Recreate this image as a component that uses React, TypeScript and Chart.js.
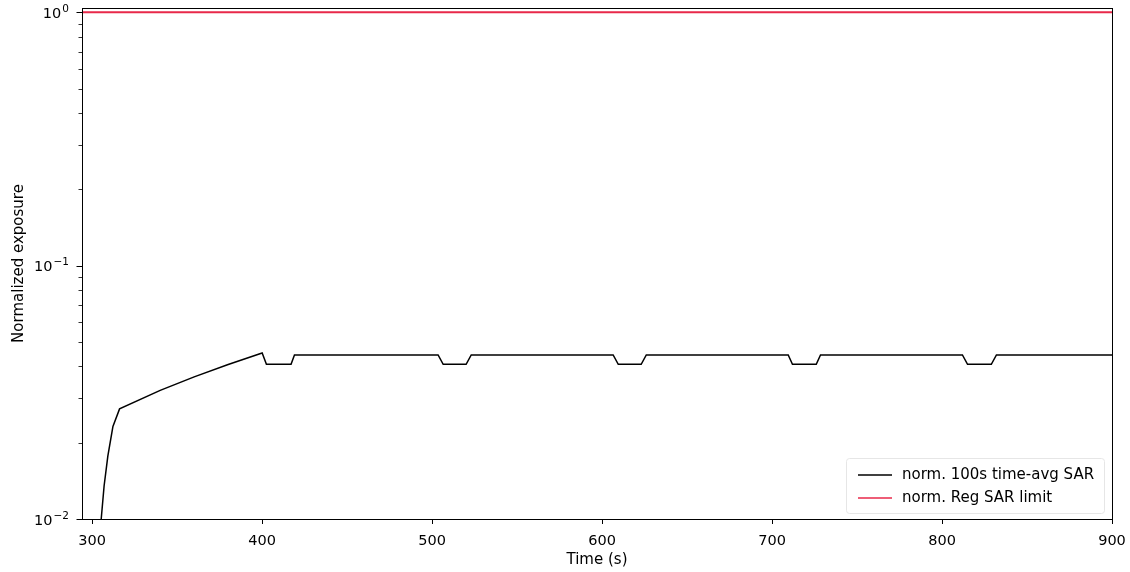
import React, { useEffect, useRef } from "react";
import { Chart, registerables } from "chart.js";

Chart.register(...registerables);

// ---- data ----
const timeSec = [304.8, 305.3, 307, 309.2, 312.2, 316.1, 340, 360, 380, 400, 402.5, 417, 419, 503.5, 506.5, 520, 523, 606.5, 609.5, 623, 626, 709.5, 712, 726, 728.5, 812, 815, 829, 832, 900];
const sarAvgNorm = [0.0095, 0.01, 0.0135, 0.0177, 0.0232, 0.0272, 0.0322, 0.0364, 0.0407, 0.0452, 0.0408, 0.0408, 0.0444, 0.0444, 0.0408, 0.0408, 0.0444, 0.0444, 0.0408, 0.0408, 0.0444, 0.0444, 0.0408, 0.0408, 0.0444, 0.0444, 0.0408, 0.0408, 0.0444, 0.0444];
const limitTime = [294, 900];
const limitNorm = [1, 1];

const seriesLabels = ["norm. 100s time-avg SAR", "norm. Reg SAR limit"];
const xTicks = [300, 400, 500, 600, 700, 800, 900];
const yMajorTicks = [0.01, 0.1, 1];
const yTickBase = "10";
const yTickExponents = ["\u22122", "\u22121", "0"];
const xRange = [294, 900];
const yRange = [0.01, 1.04];

const FONT = "'DejaVu Sans', sans-serif";

const frameAndTicks = {
  id: "frameAndTicks",
  afterDatasetsDraw(chart: any) {
    const { ctx, chartArea: a, scales } = chart;
    ctx.save();
    ctx.strokeStyle = "#000";
    ctx.lineWidth = 1;
    ctx.strokeRect(Math.round(a.left) + 0.5, Math.round(a.top) + 0.5, Math.round(a.right - a.left), Math.round(a.bottom - a.top));
    ctx.beginPath();
    for (const v of xTicks) {
      const x = Math.round(scales.x.getPixelForValue(v)) + 0.5;
      ctx.moveTo(x, a.bottom);
      ctx.lineTo(x, a.bottom + 5);
    }
    for (const v of yMajorTicks) {
      const y = Math.round(scales.y.getPixelForValue(v)) + 0.5;
      ctx.moveTo(a.left, y);
      ctx.lineTo(a.left - 5.5, y);
    }
    ctx.stroke();
    ctx.beginPath();
    ctx.lineWidth = 0.8;
    for (const d of yMajorTicks) {
      for (let m = 2; m <= 9; m++) {
        const v = d * m;
        if (v > yRange[1]) continue;
        const y = Math.round(scales.y.getPixelForValue(v)) + 0.5;
        ctx.moveTo(a.left, y);
        ctx.lineTo(a.left - 3.5, y);
      }
    }
    ctx.stroke();
    // y tick labels with superscript exponents
    ctx.fillStyle = "#000";
    ctx.textAlign = "left";
    ctx.textBaseline = "alphabetic";
    yMajorTicks.forEach((v, i) => {
      const y = scales.y.getPixelForValue(v);
      const right = a.left - 13;
      ctx.font = `10.5px ${FONT}`;
      const ew = ctx.measureText(yTickExponents[i]).width;
      ctx.font = `14.5px ${FONT}`;
      const bw = ctx.measureText(yTickBase).width;
      const x0 = right - ew - bw - 1;
      ctx.fillText(yTickBase, x0, y + 5.5);
      ctx.font = `10.5px ${FONT}`;
      ctx.fillText(yTickExponents[i], x0 + bw + 1, y - 0.5);
    });
    ctx.restore();
  },
};

const legendBox = {
  id: "legendBox",
  afterDraw(chart: any) {
    const { ctx, chartArea: a } = chart;
    const ds = chart.data.datasets;
    ctx.save();
    ctx.font = `15px ${FONT}`;
    const lineH = 23;
    const boxW = 258;
    const boxH = 55;
    const bx = Math.round(a.right - 8 - boxW);
    const by = Math.round(a.bottom - 6 - boxH);
    ctx.fillStyle = "rgba(255,255,255,0.8)";
    ctx.strokeStyle = "#e6e6e6";
    ctx.lineWidth = 1;
    ctx.beginPath();
    if ((ctx as any).roundRect) (ctx as any).roundRect(bx + 0.5, by + 0.5, boxW, boxH, 3);
    else ctx.rect(bx + 0.5, by + 0.5, boxW, boxH);
    ctx.fill();
    ctx.stroke();
    ds.forEach((d: any, i: number) => {
      const y = by + 17 + i * lineH;
      ctx.strokeStyle = d.borderColor;
      ctx.lineWidth = 1.5;
      ctx.beginPath();
      ctx.moveTo(bx + 12, y);
      ctx.lineTo(bx + 46, y);
      ctx.stroke();
      ctx.fillStyle = "#000";
      ctx.textBaseline = "middle";
      ctx.textAlign = "left";
      ctx.fillText(d.label, bx + 56, y);
    });
    ctx.restore();
  },
};

export default function App() {
  const ref = useRef<HTMLCanvasElement>(null);
  useEffect(() => {
    const canvas = ref.current;
    if (!canvas) return;
    const chart = new Chart(canvas, {
      type: "line",
      data: {
        datasets: [
          {
            label: seriesLabels[0],
            data: timeSec.map((t, i) => ({ x: t, y: sarAvgNorm[i] })),
            borderColor: "#000000",
            borderWidth: 1.5,
            pointRadius: 0,
            tension: 0,
          },
          {
            label: seriesLabels[1],
            data: limitTime.map((t, i) => ({ x: t, y: limitNorm[i] })),
            borderColor: "#e8294a",
            borderWidth: 2,
            pointRadius: 0,
            tension: 0,
          },
        ],
      },
      options: {
        animation: false,
        responsive: false,
        layout: { padding: { top: 8, right: 18, bottom: 0, left: 0 } },
        plugins: { legend: { display: false }, tooltip: { enabled: false }, title: { display: false } },
        scales: {
          x: {
            type: "linear",
            min: xRange[0],
            max: xRange[1],
            grid: { display: false },
            border: { display: false },
            afterBuildTicks: (s: any) => {
              s.ticks = xTicks.map((v) => ({ value: v }));
            },
            afterFit: (s: any) => {
              s.height = 53;
              s.paddingLeft = 0;
              s.paddingRight = 0;
            },
            ticks: {
              color: "#000",
              padding: 6,
              maxRotation: 0,
              autoSkip: false,
              font: { family: FONT, size: 14.5 },
              callback: (v: any) => String(v),
            },
            title: {
              display: true,
              text: "Time (s)",
              color: "#000",
              font: { family: FONT, size: 15 },
              padding: { top: 0, bottom: 3 },
            },
          },
          y: {
            type: "logarithmic",
            min: yRange[0],
            max: yRange[1],
            grid: { display: false },
            border: { display: false },
            afterBuildTicks: (s: any) => {
              s.ticks = yMajorTicks.map((v) => ({ value: v }));
            },
            afterFit: (s: any) => {
              s.width = 82;
              s.paddingTop = 0;
              s.paddingBottom = 0;
            },
            ticks: {
              color: "#000",
              padding: 13,
              autoSkip: false,
              font: { family: FONT, size: 14.5, lineHeight: 1 },
              callback: () => "",
            },
            title: {
              display: true,
              text: "Normalized exposure",
              color: "#000",
              font: { family: FONT, size: 15 },
              padding: { top: 10, bottom: 0 },
            },
          },
        },
      },
      plugins: [frameAndTicks, legendBox],
    });
    return () => chart.destroy();
  }, []);
  return (
    <div style={{ position: "fixed", left: 0, top: 0, width: 1130, height: 572, background: "#fff" }}>
      <canvas ref={ref} width={1130} height={572} style={{ display: "block" }} />
    </div>
  );
}
